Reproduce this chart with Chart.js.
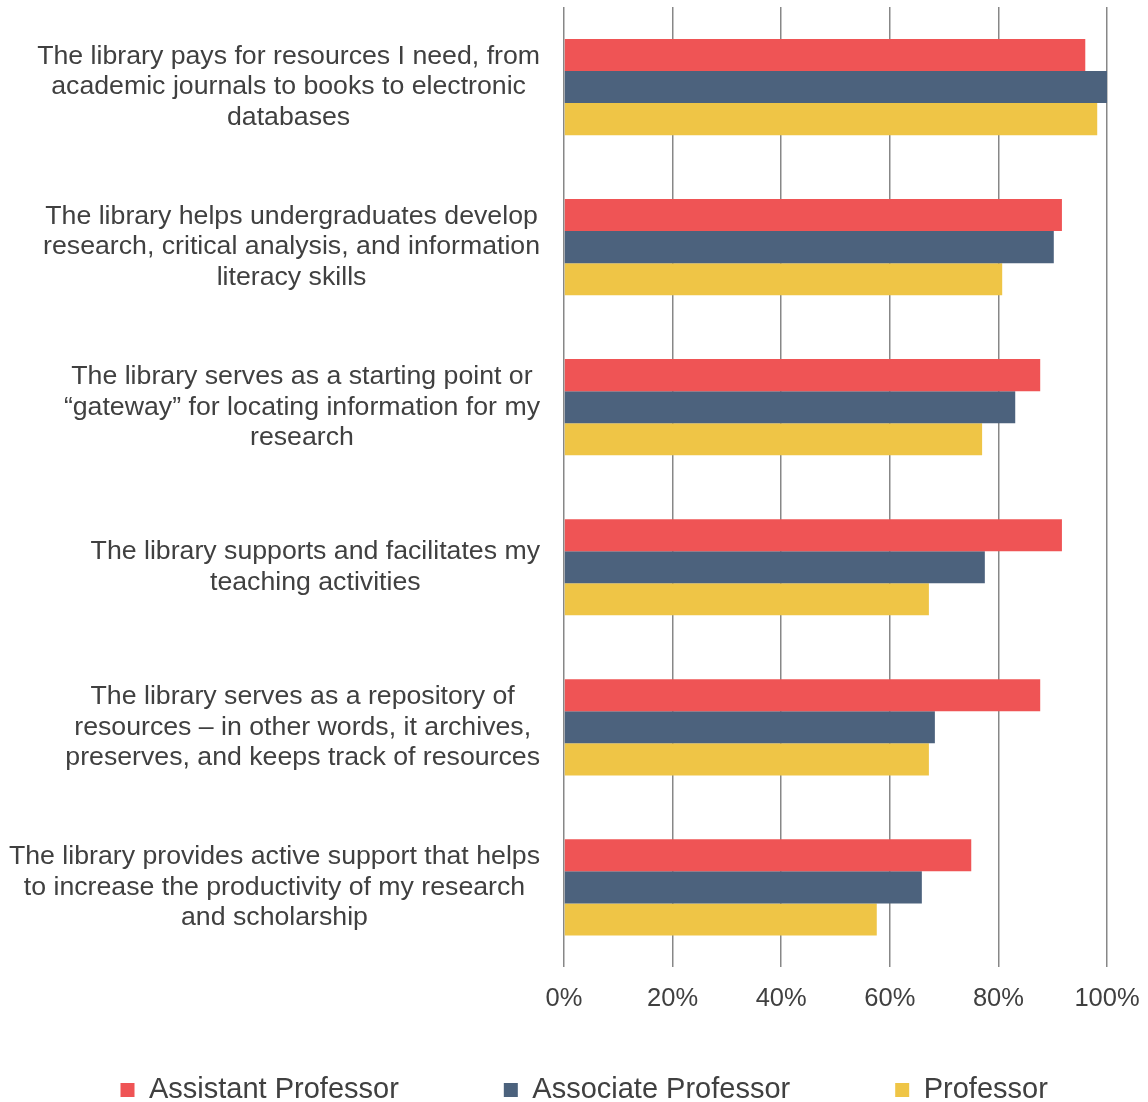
<!DOCTYPE html>
<html><head><meta charset="utf-8">
<script src="https://cdn.jsdelivr.net/npm/chart.js@4.4.1/dist/chart.umd.min.js"></script>
<style>html,body{margin:0;padding:0;background:#fff}#wrap{width:1148px;height:1102px;position:relative}</style>
</head><body><div id="wrap"><canvas id="c"></canvas></div>
<script>
const categories = [
  ["The library pays for resources I need, from", "academic journals to books to electronic", "databases"],
  ["The library helps undergraduates develop", "research, critical analysis, and information", "literacy skills"],
  ["The library serves as a starting point or", "\u201Cgateway\u201D for locating information for my", "research"],
  ["The library supports and facilitates my", "teaching activities"],
  ["The library serves as a repository of", "resources \u2013 in other words, it archives,", "preserves, and keeps track of resources"],
  ["The library provides active support that helps", "to increase the productivity of my research", "and scholarship"]
];
const seriesNames = ["Assistant Professor", "Associate Professor", "Professor"];
const assistantProfessor = [96.0, 91.7, 87.7, 91.7, 87.7, 75.0];
const associateProfessor = [100.0, 90.2, 83.1, 77.5, 68.3, 65.9];
const professor = [98.2, 80.7, 77.0, 67.2, 67.2, 57.6];
const xTicks = [0, 20, 40, 60, 80, 100];

const FONT = '"Liberation Sans", Arial, sans-serif';
const TEXT = '#404040';
Chart.defaults.font.family = FONT;
Chart.defaults.color = TEXT;

const LEGEND_PAD = 105;
const LEGEND_FONT = 29;
const LEGEND_CENTER_Y = 1090;
const LEGEND_SHIFT_X = 10.15;

const yLabelPlugin = {
  id: 'yLabels',
  afterDraw(chart) {
    const ys = chart.scales.y, ctx = chart.ctx;
    ctx.save();
    ctx.font = '26.7px ' + FONT;
    ctx.fillStyle = TEXT;
    ctx.textAlign = 'center';
    ctx.textBaseline = 'middle';
    const right = chart.chartArea.left - 24;
    const lh = 30.5;
    categories.forEach((lines, i) => {
      const cy = ys.getPixelForTick(i);
      const w = Math.max(...lines.map(l => ctx.measureText(l).width));
      const cx = right - w / 2;
      lines.forEach((l, j) => ctx.fillText(l, cx, cy + (j - (lines.length - 1) / 2) * lh));
    });
    ctx.restore();
  }
};

const legendPlace = {
  id: 'legendPlace',
  afterLayout(chart) {
    const lg = chart.legend;
    if (!lg) return;
    lg.left += LEGEND_SHIFT_X;
    lg.right += LEGEND_SHIFT_X;
    lg.top = LEGEND_CENTER_Y - LEGEND_PAD - LEGEND_FONT / 2;
    lg.bottom = chart.height;
  }
};

new Chart(document.getElementById('c'), {
  type: 'bar',
  data: {
    labels: categories,
    datasets: [
      { label: seriesNames[0], data: assistantProfessor, backgroundColor: '#EF5455' },
      { label: seriesNames[1], data: associateProfessor, backgroundColor: '#4C627D' },
      { label: seriesNames[2], data: professor, backgroundColor: '#EFC546' }
    ]
  },
  options: {
    indexAxis: 'y',
    responsive: true,
    maintainAspectRatio: false,
    animation: false,
    layout: { padding: { top: 7, bottom: 12, left: 0, right: 0 } },
    datasets: { bar: { categoryPercentage: 0.601, barPercentage: 1.0, borderWidth: 0 } },
    scales: {
      x: {
        min: 0, max: 100,
        afterBuildTicks: s => { s.ticks = xTicks.map(v => ({ value: v })); },
        afterFit: s => { s.paddingRight = 41; },
        ticks: { callback: v => v + '%', font: { size: 25.5 }, color: TEXT, padding: 16, maxRotation: 0 },
        grid: { color: '#878787', lineWidth: 1.5, drawTicks: false },
        border: { display: false }
      },
      y: {
        afterFit: s => { s.width = 564; },
        ticks: { display: false },
        grid: { display: false },
        border: { display: false }
      }
    },
    plugins: {
      tooltip: { enabled: false },
      legend: {
        position: 'bottom',
        maxHeight: 60,
        labels: { boxWidth: 14, boxHeight: 14, padding: LEGEND_PAD, color: TEXT, font: { size: LEGEND_FONT } }
      }
    }
  },
  plugins: [yLabelPlugin, legendPlace]
});
</script>
</body></html>
